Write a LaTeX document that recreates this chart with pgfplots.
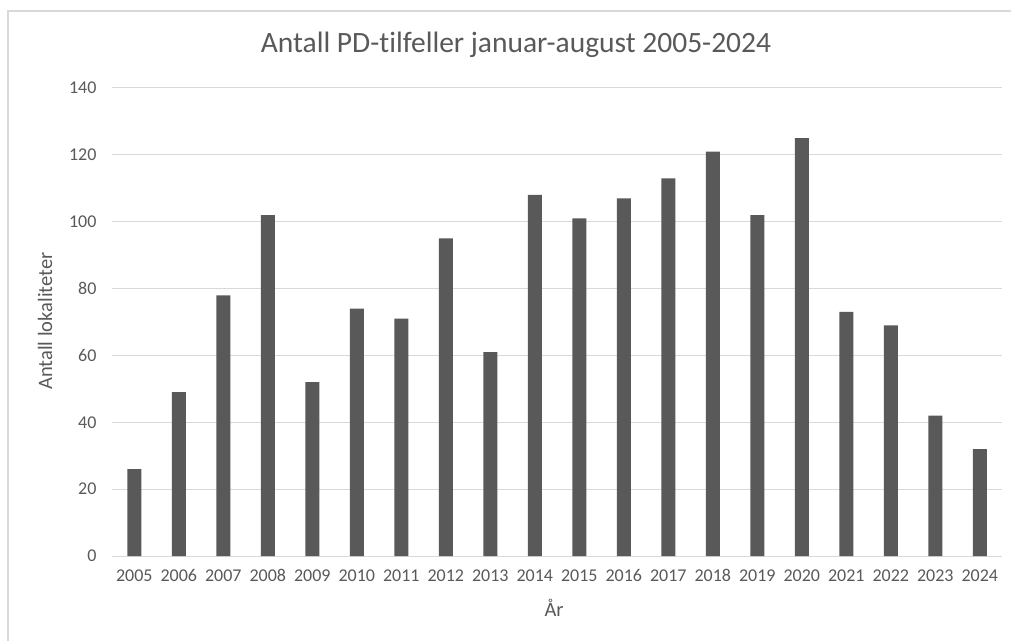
\documentclass[border=0pt]{standalone}
\usepackage{pgfplots}
\pgfplotsset{compat=1.18}
\usepackage{fontspec}
\setmainfont{Carlito}[Ligatures=NoCommon]
\definecolor{barc}{HTML}{595959}
\definecolor{txtc}{HTML}{595959}
\definecolor{gridc}{HTML}{D9D9D9}
\begin{document}
\begin{tikzpicture}
\path[use as bounding box] (0pt,0pt) rectangle (1011pt,641pt);
\draw[gridc, line width=1.2pt] (8pt,0pt) -- (8pt,630pt) -- (1011pt,630pt);
\node[txtc, font=\fontsize{29.5}{31}\selectfont] at (516pt,596pt) {Antall PD-tilfeller januar-august 2005-2024};
\node[txtc, font=\fontsize{20.5}{22}\selectfont, rotate=90] at (45pt,320pt) {Antall lokaliteter};
\node[txtc, font=\fontsize{20.5}{22}\selectfont] at (554pt,33pt) {År};
\begin{axis}[
  at={(112pt,85pt)}, anchor=south west,
  scale only axis, width=890pt, height=468pt,
  xmin=-0.5, xmax=19.5, ymin=0, ymax=140,
  ytick={0,20,...,140},
  xtick={0,...,19},
  xticklabels={2005,2006,2007,2008,2009,2010,2011,2012,2013,2014,2015,2016,2017,2018,2019,2020,2021,2022,2023,2024},
  ymajorgrids, grid style={gridc, line width=1pt},
  axis y line*=left, axis x line*=bottom,
  y axis line style={draw=none},
  x axis line style={gridc, line width=1pt, -},
  major tick length=0pt,
  /pgf/number format/assume math mode=true,
  ticklabel style={txtc, font=\fontsize{18}{20}\selectfont},
  yticklabel style={xshift=-12pt},
  xticklabel style={yshift=-10pt},
  clip=false,
]
\addplot[ybar, bar width=14pt, fill=barc, draw=none] coordinates {
(0,26) (1,49) (2,78) (3,102) (4,52) (5,74) (6,71) (7,95) (8,61) (9,108)
(10,101) (11,107) (12,113) (13,121) (14,102) (15,125) (16,73) (17,69) (18,42) (19,32)
};
\end{axis}
\end{tikzpicture}
\end{document}
